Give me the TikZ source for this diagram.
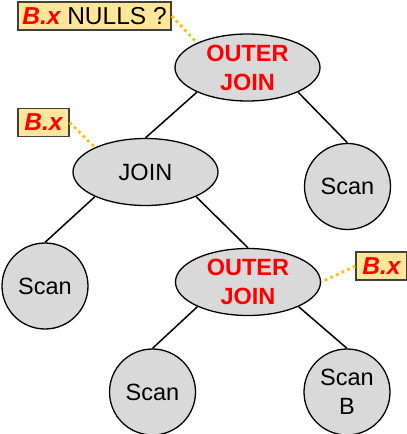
\documentclass[tikz,border=0pt]{standalone}
\usepackage{fontspec}
\setmainfont{Liberation Sans}
\usetikzlibrary{shapes.geometric}
\definecolor{nodegray}{HTML}{D9D9D9}
\definecolor{labfill}{HTML}{FFE699}
\definecolor{labdraw}{HTML}{404040}
\definecolor{dotgold}{HTML}{FFC000}
\definecolor{ojred}{HTML}{FF0000}
\tikzset{
  opnode/.style={ellipse, draw=black, line width=1.3pt, fill=nodegray, minimum width=145pt, minimum height=67pt, inner sep=0pt, align=center, font=\fontsize{23.5}{29}\selectfont},
  scannode/.style={circle, draw=black, line width=1.3pt, fill=nodegray, minimum size=86pt, inner sep=0pt, align=center, font=\fontsize{23.5}{29}\selectfont},
  ojtext/.style={text=ojred, font=\fontsize{23.5}{29}\selectfont\bfseries},
  labbox/.style={rectangle, draw=labdraw, line width=1.3pt, fill=labfill, minimum height=28pt, inner sep=0pt, font=\fontsize{24.5}{29}\selectfont},
  edge/.style={draw=black, line width=1.5pt},
  dotlink/.style={draw=dotgold, line width=2.8pt, dash pattern=on 2.8pt off 3.4pt},
}
\newcommand{\bxlab}{\textcolor{ojred}{\bfseries\itshape B.x}}
\begin{document}
\begin{tikzpicture}[x=1pt, y=-1pt]
\useasboundingbox (0,0) rectangle (407,434);
% nodes
\node[opnode, ojtext] (oj1) at (247.5,67.5) {OUTER\\JOIN};
\node[opnode] (join) at (145.5,172) {JOIN};
\node[scannode] (scanR) at (347.5,186.5) {Scan};
\node[scannode] (scanL) at (45,286) {Scan};
\node[opnode, ojtext] (oj2) at (248,282) {OUTER\\JOIN};
\node[scannode] (scanM) at (152.5,392) {Scan};
\node[scannode] (scanB) at (347,392) {Scan\\B};
% labels
\node[labbox, minimum width=153pt] (lab1) at (94.5,16) {\bxlab\ NULLS ?};
\node[labbox, minimum width=51pt] (lab2) at (43.5,122.5) {\bxlab};
\node[labbox, minimum width=51pt] (lab3) at (381.5,266) {\bxlab};
% edges
\path[edge] (oj1.206) -- (join.north);
\path[edge] (oj1.334) -- (scanR.north);
\path[edge] (join.206) -- (scanL.north);
\path[edge] (join.334) -- (oj2.north);
\path[edge] (oj2.206) -- (scanM.north);
\path[edge] (oj2.334) -- (scanB.north);
% dotted links
\path[dotlink] (lab1.east) -- (oj1.154);
\path[dotlink] (lab2.east) -- (join.154);
\path[dotlink] (lab3.west) -- (oj2.east);
\end{tikzpicture}
\end{document}
